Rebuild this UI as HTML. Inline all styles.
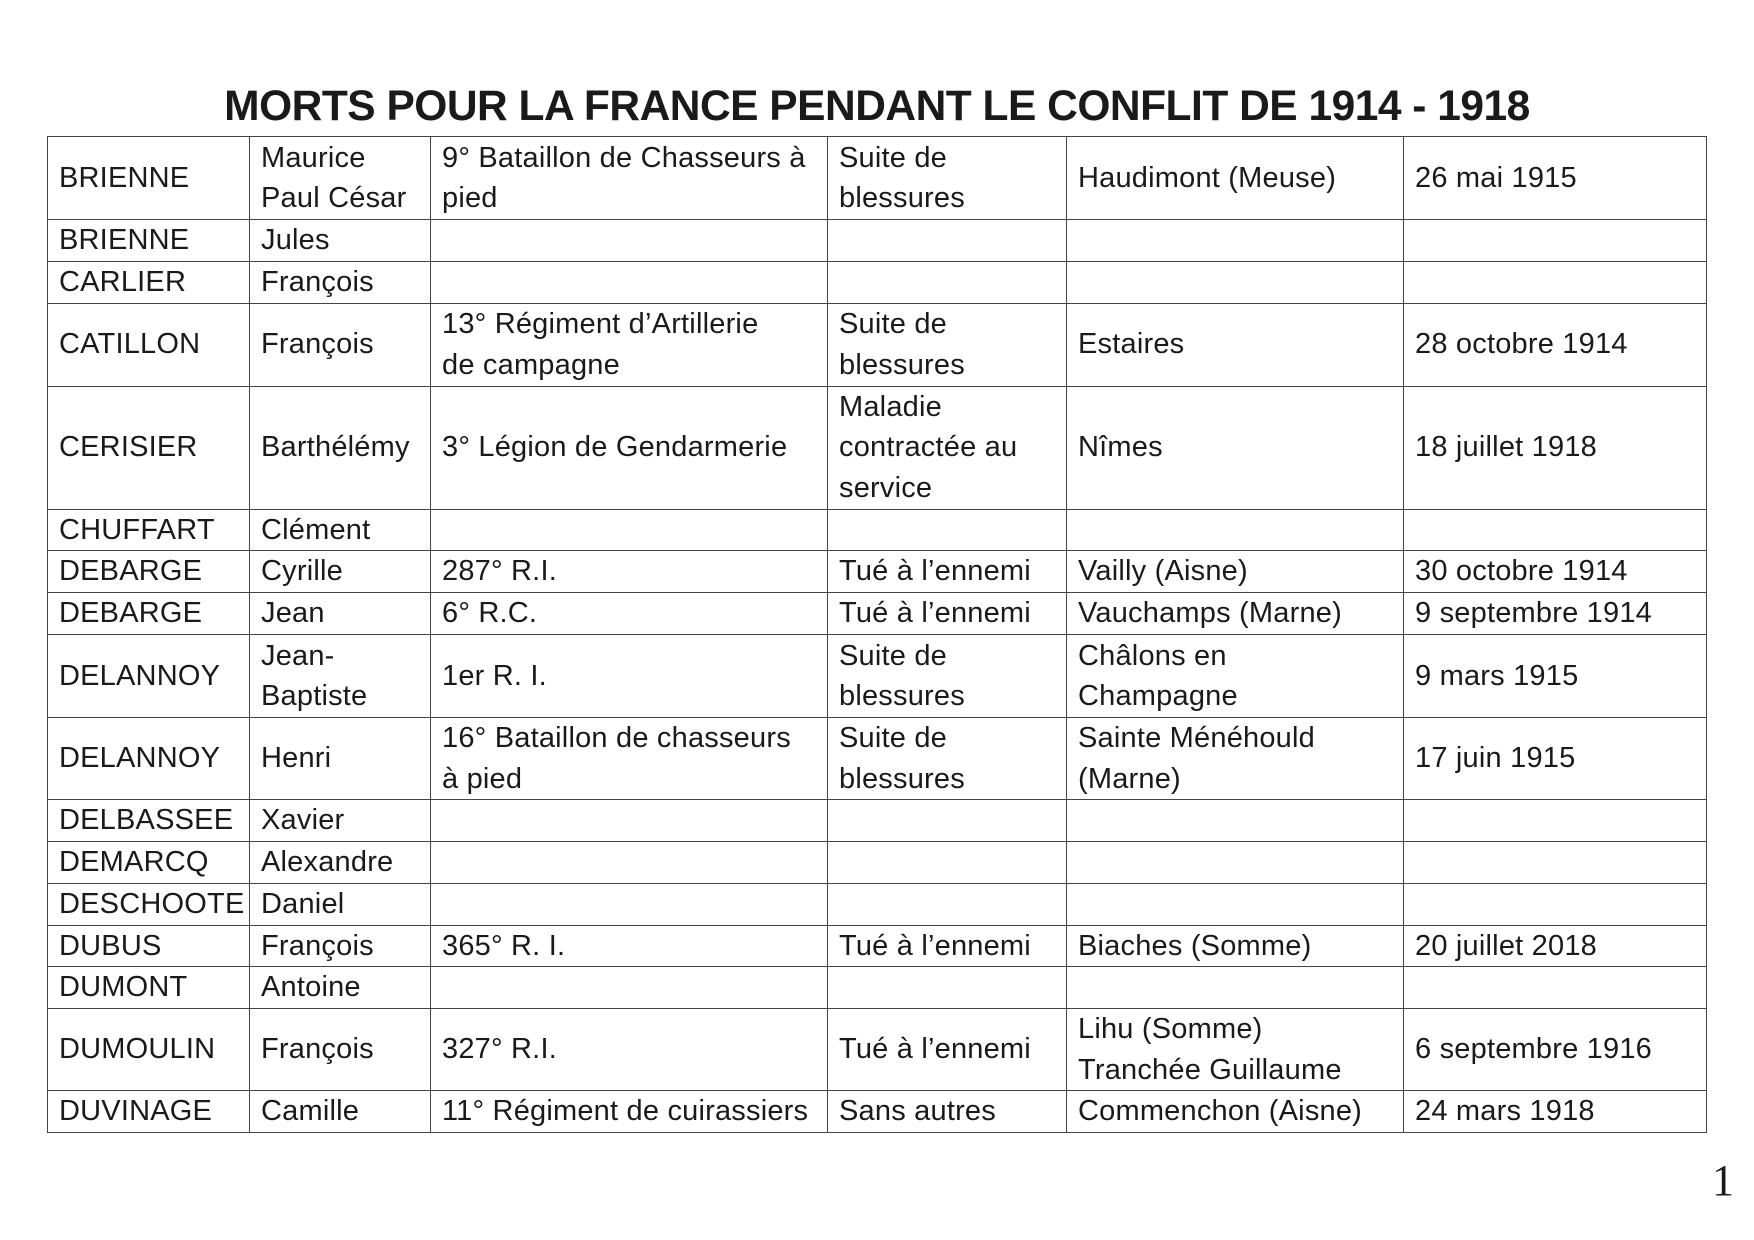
<!DOCTYPE html>
<html><head><meta charset="utf-8"><style>
body{margin:0;width:1754px;height:1240px;background:#fff;position:relative;overflow:hidden;font-family:"Liberation Sans",sans-serif;color:#1a1a1a}
h1{position:absolute;left:0;width:1754px;top:82px;margin:0;text-align:center;font-size:42.5px;font-weight:bold;letter-spacing:-0.5px;line-height:50px}
table{position:absolute;left:47px;top:136px;border-collapse:collapse;table-layout:fixed;width:1659px}
td{border:1.5px solid #444;padding:0 0 0 11px;font-size:29px;letter-spacing:0.2px;line-height:40.5px;white-space:nowrap;vertical-align:middle;overflow:hidden}
tr{height:41px}
.n{position:absolute;left:1712px;top:1155px;font-family:"Liberation Serif",serif;font-size:44px}
</style></head><body>
<h1>MORTS POUR LA FRANCE PENDANT LE CONFLIT DE 1914 - 1918</h1>
<table>
<colgroup><col style="width:202px"><col style="width:181px"><col style="width:397px"><col style="width:239px"><col style="width:337px"><col style="width:303px"></colgroup>
<tr style="height:83px"><td>BRIENNE</td><td>Maurice<br>Paul César</td><td>9° Bataillon de Chasseurs à<br>pied</td><td>Suite de<br>blessures</td><td>Haudimont (Meuse)</td><td>26 mai 1915</td></tr>
<tr style="height:42px"><td>BRIENNE</td><td>Jules</td><td></td><td></td><td></td><td></td></tr>
<tr style="height:41px"><td>CARLIER</td><td>François</td><td></td><td></td><td></td><td></td></tr>
<tr style="height:83px"><td>CATILLON</td><td>François</td><td>13° Régiment d’Artillerie<br>de campagne</td><td>Suite de<br>blessures</td><td>Estaires</td><td>28 octobre 1914</td></tr>
<tr style="height:123px"><td>CERISIER</td><td>Barthélémy</td><td>3° Légion de Gendarmerie</td><td>Maladie<br>contractée au<br>service</td><td>Nîmes</td><td>18 juillet 1918</td></tr>
<tr style="height:41px"><td>CHUFFART</td><td>Clément</td><td></td><td></td><td></td><td></td></tr>
<tr style="height:42px"><td>DEBARGE</td><td>Cyrille</td><td>287° R.I.</td><td>Tué à l’ennemi</td><td>Vailly (Aisne)</td><td>30 octobre 1914</td></tr>
<tr style="height:42px"><td>DEBARGE</td><td>Jean</td><td>6° R.C.</td><td>Tué à l’ennemi</td><td>Vauchamps (Marne)</td><td>9 septembre 1914</td></tr>
<tr style="height:83px"><td>DELANNOY</td><td>Jean-<br>Baptiste</td><td>1er R. I.</td><td>Suite de<br>blessures</td><td>Châlons en<br>Champagne</td><td>9 mars 1915</td></tr>
<tr style="height:82px"><td>DELANNOY</td><td>Henri</td><td>16° Bataillon de chasseurs<br>à pied</td><td>Suite de<br>blessures</td><td>Sainte Ménéhould<br>(Marne)</td><td>17 juin 1915</td></tr>
<tr style="height:41px"><td>DELBASSEE</td><td>Xavier</td><td></td><td></td><td></td><td></td></tr>
<tr style="height:42px"><td>DEMARCQ</td><td>Alexandre</td><td></td><td></td><td></td><td></td></tr>
<tr style="height:42px"><td>DESCHOOTE</td><td>Daniel</td><td></td><td></td><td></td><td></td></tr>
<tr style="height:41px"><td>DUBUS</td><td>François</td><td>365° R. I.</td><td>Tué à l’ennemi</td><td>Biaches (Somme)</td><td>20 juillet 2018</td></tr>
<tr style="height:42px"><td>DUMONT</td><td>Antoine</td><td></td><td></td><td></td><td></td></tr>
<tr style="height:81px"><td>DUMOULIN</td><td>François</td><td>327° R.I.</td><td>Tué à l’ennemi</td><td>Lihu (Somme)<br>Tranchée Guillaume</td><td>6 septembre 1916</td></tr>
<tr style="height:41px"><td>DUVINAGE</td><td>Camille</td><td>11° Régiment de cuirassiers</td><td>Sans autres</td><td>Commenchon (Aisne)</td><td>24 mars 1918</td></tr>
</table>
<div class="n">1</div>
</body></html>
